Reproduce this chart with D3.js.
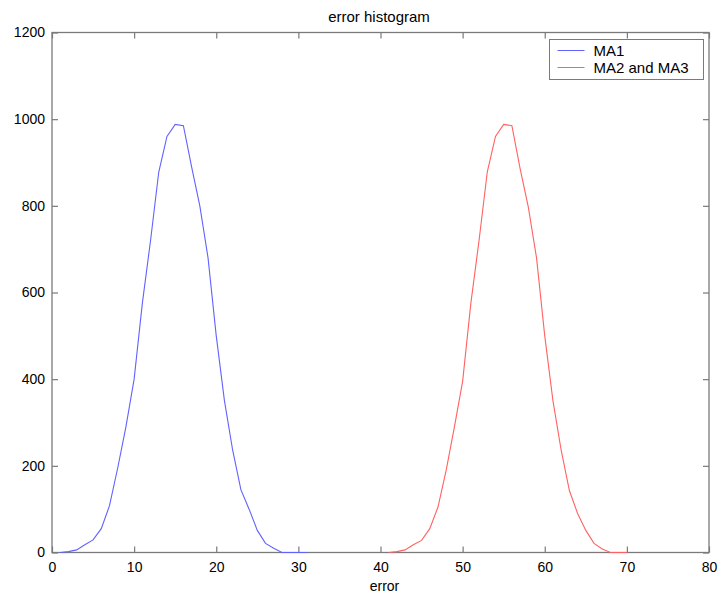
<!DOCTYPE html>
<html>
<head>
<meta charset="utf-8">
<script src="https://cdn.jsdelivr.net/npm/d3@7"></script>
<style>
  body { margin: 0; background: #fff; }
  svg text { font-family: "Liberation Sans", Arial, sans-serif; fill: #000; }
</style>
</head>
<body>
<div class="vis"></div>
<script>
// error bins and counts
var ma1Error = [1, 2, 3, 4, 5, 6, 7, 8, 9, 10, 11, 12, 13, 14, 15, 16, 17, 18, 19, 20,
                21, 22, 23, 24, 25, 26, 27, 28, 29, 30, 31];
var ma1Count = [0, 2, 6, 18, 29, 55, 108, 195, 290, 400, 575, 720, 878, 960, 988, 985, 890, 800, 680, 500,
                350, 236, 145, 100, 51, 21, 10, 0, 0, 0, 0];

var ma23Error = [41, 42, 43, 44, 45, 46, 47, 48, 49, 50, 51, 52, 53, 54, 55, 56, 57, 58, 59, 60,
                 61, 62, 63, 64, 65, 66, 67, 68, 69, 70];
var ma23Count = [0, 2, 6, 18, 28, 55, 105, 190, 290, 395, 575, 720, 878, 960, 988, 985, 886, 797, 680, 500,
                 350, 236, 143, 90, 51, 21, 8, 0, 0, 0];

var xTicks = [0, 10, 20, 30, 40, 50, 60, 70, 80];
var yTicks = [0, 200, 400, 600, 800, 1000, 1200];
var seriesNames = ['MA1', 'MA2 and MA3'];
var seriesColors = ['#6262ff', '#ff6262'];

var width = 719, height = 594;
var margin = { top: 32.5, right: 10, bottom: 41.5, left: 52 };
var plotW = width - margin.left - margin.right;
var plotH = height - margin.top - margin.bottom;

var svg = d3.select('div.vis').append('svg')
    .attr('width', width)
    .attr('height', height);

var g = svg.append('g')
    .attr('transform', 'translate(' + margin.left + ',' + margin.top + ')');

var x = d3.scaleLinear().domain([0, 80]).range([0, plotW]);
var y = d3.scaleLinear().domain([0, 1200]).range([plotH, 0]);

var axisColor = '#7a7a7a';

function styleAxis(sel) {
    sel.select('.domain').remove();
    sel.selectAll('.tick line').attr('stroke', axisColor).attr('stroke-width', 1.2);
    sel.selectAll('.tick text').style('font-size', '14px').attr('fill', '#000');
}

// bottom and left with labels, ticks pointing inward
g.append('g')
    .attr('transform', 'translate(0,' + plotH + ')')
    .call(d3.axisBottom(x).tickValues(xTicks).tickSize(-6).tickPadding(10).tickFormat(d3.format('d')))
    .call(styleAxis);

g.append('g')
    .call(d3.axisLeft(y).tickValues(yTicks).tickSize(-6).tickPadding(7).tickFormat(d3.format('d')))
    .call(styleAxis);

// top and right, ticks only
g.append('g')
    .call(d3.axisTop(x).tickValues(xTicks).tickSize(-6).tickFormat(''))
    .call(styleAxis);

g.append('g')
    .attr('transform', 'translate(' + plotW + ',0)')
    .call(d3.axisRight(y).tickValues(yTicks).tickSize(-6).tickFormat(''))
    .call(styleAxis);

// box
g.append('rect')
    .attr('width', plotW)
    .attr('height', plotH)
    .attr('fill', 'none')
    .attr('stroke', axisColor)
    .attr('stroke-width', 1.3);

var line = d3.line()
    .x(function (d) { return x(d[0]); })
    .y(function (d) { return y(d[1]); });

var series = [
    d3.zip(ma1Error, ma1Count),
    d3.zip(ma23Error, ma23Count)
];

g.selectAll('path.series')
    .data(series)
    .enter()
    .append('path')
    .attr('class', 'series')
    .attr('d', line)
    .attr('fill', 'none')
    .attr('stroke', function (d, i) { return seriesColors[i]; })
    .attr('stroke-width', 1.1);

// title and x label
svg.append('text')
    .attr('x', 379)
    .attr('y', 22)
    .attr('text-anchor', 'middle')
    .style('font-size', '15px')
    .text('error histogram');

svg.append('text')
    .attr('x', margin.left + plotW / 2 + 4)
    .attr('y', 591)
    .attr('text-anchor', 'middle')
    .style('font-size', '14px')
    .text('error');

// legend
var legend = svg.append('g').attr('transform', 'translate(549.5,39.5)');
legend.append('rect')
    .attr('width', 154)
    .attr('height', 40)
    .attr('fill', '#fff')
    .attr('stroke', axisColor);

var items = legend.selectAll('g.item')
    .data(seriesNames)
    .enter()
    .append('g')
    .attr('class', 'item')
    .attr('transform', function (d, i) { return 'translate(0,' + (11 + i * 17) + ')'; });

items.append('line')
    .attr('x1', 8).attr('x2', 35)
    .attr('stroke', function (d, i) { return seriesColors[i]; })
    .attr('stroke-width', 1);

items.append('text')
    .attr('x', 44)
    .attr('dy', '0.35em')
    .style('font-size', '15px')
    .text(function (d) { return d; });
</script>
</body>
</html>
